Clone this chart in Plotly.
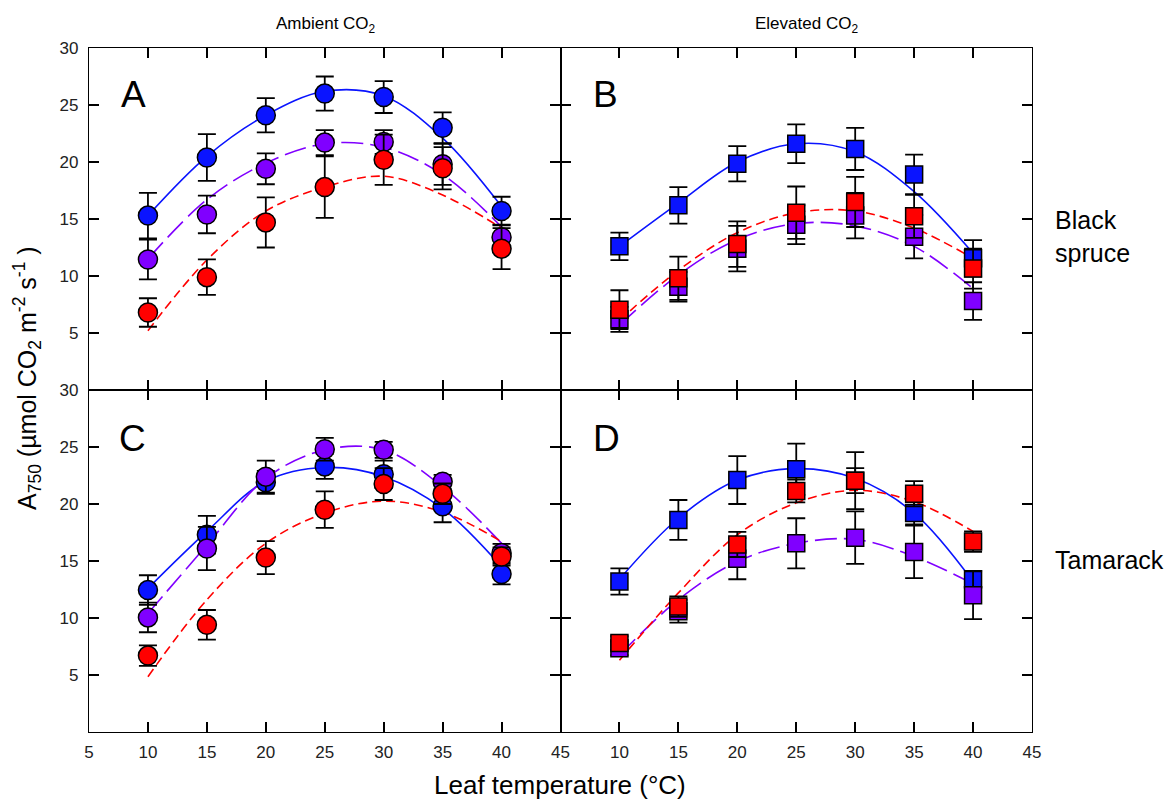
import plotly.graph_objects as go
from plotly.subplots import make_subplots

temps = [10, 15, 20, 25, 30, 35, 40]

# Panel A (Black spruce, ambient CO2) - circles
A_blue = [15.3, 20.4, 24.1, 26.0, 25.7, 23.0, 15.7]
A_blue_err = [2.0, 2.05, 1.5, 1.5, 1.4, 1.35, 1.25]
A_purple = [11.45, 15.4, 19.4, 21.7, 21.75, 19.8, 13.4]
A_purple_err = [1.75, 1.65, 1.35, 1.1, 1.05, 1.8, 1.1]
A_red = [6.8, 9.9, 14.7, 17.8, 20.2, 19.45, 12.4]
A_red_err = [1.25, 1.55, 2.2, 2.7, 2.2, 1.85, 1.8]
A_blue_fit = [15.3, 20.5, 24.1, 26.2, 25.8, 22.1, 16.1]
A_purple_fit = [11.5, 16.7, 19.9, 21.6, 21.3, 18.9, 14.3]
A_red_fit = [5.2, 11.4, 15.7, 17.8, 18.75, 17.1, 14.2]

# Panel B (Black spruce, elevated CO2) - squares
B_blue = [12.6, 16.2, 19.85, 21.6, 21.15, 18.9, 11.55]
B_blue_err = [1.2, 1.6, 1.55, 1.7, 1.85, 1.75, 1.6]
B_purple = [6.2, 9.05, 12.4, 14.5, 15.3, 13.45, 7.8]
B_purple_err = [1.1, 1.3, 2.0, 1.7, 2.0, 1.9, 1.65]
B_red = [7.05, 9.8, 12.8, 15.55, 16.5, 15.25, 10.65]
B_red_err = [1.7, 1.9, 2.0, 2.3, 2.2, 1.9, 1.75]
B_blue_fit = [12.6, 16.4, 20.0, 21.6, 20.9, 17.4, 12.0]
B_purple_fit = [5.7, 10.1, 13.2, 14.6, 14.4, 12.6, 8.9]
B_red_fit = [6.1, 10.5, 13.8, 15.55, 15.7, 14.2, 11.55]

# Panel C (Tamarack, ambient CO2) - circles
C_blue = [12.45, 17.3, 21.9, 23.3, 22.6, 19.8, 13.85]
C_blue_err = [1.3, 1.65, 1.0, 1.1, 1.2, 1.4, 0.9]
C_purple = [10.05, 16.1, 22.4, 24.8, 24.75, 21.95, 15.7]
C_purple_err = [1.3, 1.9, 1.4, 1.0, 0.7, 0.6, 0.8]
C_red = [6.7, 9.4, 15.3, 19.5, 21.75, 20.9, 15.4]
C_red_err = [0.9, 1.3, 1.45, 1.6, 1.4, 0.9, 0.8]
C_blue_fit = [12.6, 17.6, 22.0, 23.2, 22.4, 19.6, 14.5]
C_purple_fit = [10.4, 16.4, 22.25, 24.75, 24.75, 21.5, 16.55]
C_red_fit = [4.85, 11.6, 16.55, 19.2, 20.25, 19.3, 16.7]

# Panel D (Tamarack, elevated CO2) - squares
D_blue = [13.2, 18.6, 22.1, 23.05, 22.05, 19.2, 13.4]
D_blue_err = [1.15, 1.75, 2.1, 2.25, 2.5, 1.0, 0.7]
D_purple = [7.35, 10.6, 15.2, 16.55, 17.05, 15.8, 12.0]
D_purple_err = [0.6, 1.0, 1.8, 2.2, 2.3, 2.3, 2.1]
D_red = [7.8, 11.0, 16.45, 21.15, 22.05, 20.9, 16.7]
D_red_err = [0.6, 0.9, 1.1, 1.0, 1.1, 1.1, 0.9]
D_blue_fit = [13.4, 18.75, 22.1, 23.1, 22.25, 19.2, 13.2]
D_purple_fit = [6.75, 11.6, 14.95, 16.55, 16.9, 15.4, 13.0]
D_red_fit = [6.3, 12.2, 17.3, 20.1, 21.2, 20.2, 17.6]

x_tickvals = [5, 10, 15, 20, 25, 30, 35, 40, 45]
y_tickvals = [0, 5, 10, 15, 20, 25, 30]

BLUE = "#0a14ff"
PURPLE = "#8000ff"
RED = "#ff0000"

fig = make_subplots(rows=2, cols=2, horizontal_spacing=0, vertical_spacing=0)

panels = [
    (1, 1, "circle", [(A_blue, A_blue_err, A_blue_fit, BLUE, "solid"),
                      (A_purple, A_purple_err, A_purple_fit, PURPLE, "22px,7px"),
                      (A_red, A_red_err, A_red_fit, RED, "9px,5px")]),
    (1, 2, "square", [(B_blue, B_blue_err, B_blue_fit, BLUE, "solid"),
                      (B_purple, B_purple_err, B_purple_fit, PURPLE, "22px,7px"),
                      (B_red, B_red_err, B_red_fit, RED, "9px,5px")]),
    (2, 1, "circle", [(C_blue, C_blue_err, C_blue_fit, BLUE, "solid"),
                      (C_purple, C_purple_err, C_purple_fit, PURPLE, "22px,7px"),
                      (C_red, C_red_err, C_red_fit, RED, "9px,5px")]),
    (2, 2, "square", [(D_blue, D_blue_err, D_blue_fit, BLUE, "solid"),
                      (D_purple, D_purple_err, D_purple_fit, PURPLE, "22px,7px"),
                      (D_red, D_red_err, D_red_fit, RED, "9px,5px")]),
]

for r, c, sym, series in panels:
    for vals, err, fit, col, dash in series:
        fig.add_trace(go.Scatter(x=temps, y=fit, mode="lines",
                                 line=dict(color=col, width=1.6, dash=dash, shape="spline", smoothing=1.0),
                                 showlegend=False, hoverinfo="skip"), row=r, col=c)
    for vals, err, fit, col, dash in series:
        fig.add_trace(go.Scatter(x=temps, y=vals, mode="markers",
                                 marker=dict(symbol=sym, size=19 if sym == "circle" else 17,
                                             color=col, line=dict(color="black", width=1.5)),
                                 error_y=dict(type="data", array=err, color="black", thickness=1.8, width=9),
                                 showlegend=False), row=r, col=c)

text_font = "Liberation Sans, Arial, sans-serif"
tick_font = dict(family=text_font, size=17, color="#222222")

for r in (1, 2):
    for c in (1, 2):
        if r == 2:
            if c == 1:
                xt = [str(v) for v in x_tickvals]
            else:
                xt = [""] + [str(v) for v in x_tickvals[1:]]
        else:
            xt = ["" for _ in x_tickvals]
        if c == 1:
            yt = [""] + [str(v) for v in y_tickvals[1:]]
        else:
            yt = ["" for _ in y_tickvals]
        fig.update_xaxes(range=[5, 45], tickvals=x_tickvals, ticktext=xt, ticks="inside", ticklen=10,
                         tickwidth=1.5, tickcolor="black", showline=True, linecolor="black", linewidth=1.3,
                         mirror="allticks", showgrid=False, zeroline=False, tickfont=tick_font,
                         ticklabelstandoff=4, row=r, col=c)
        fig.update_yaxes(range=[0, 30], tickvals=y_tickvals, ticktext=yt, ticks="inside", ticklen=10,
                         tickwidth=1.5, tickcolor="black", showline=True, linecolor="black", linewidth=1.3,
                         mirror="allticks", showgrid=False, zeroline=False, tickfont=tick_font,
                         ticklabelstandoff=6, row=r, col=c)

L, R, T, B = 89, 1032, 48, 732
W, H = 1175, 803
def px(X):
    return (X - L) / (R - L)
def py(Y):
    return (B - Y) / (B - T)

ann = []
ann.append(dict(x=px(326), y=py(25), text="Ambient CO<sub>2</sub>",
                font=dict(family=text_font, size=17, color="black")))
ann.append(dict(x=px(806), y=py(25), text="Elevated CO<sub>2</sub>",
                font=dict(family=text_font, size=17, color="black")))
for lab, X, Y in [("A", 133, 95), ("B", 605, 95), ("C", 132, 438), ("D", 606, 438)]:
    ann.append(dict(x=px(X), y=py(Y), text=lab,
                    font=dict(family=text_font, size=37, color="black")))
ann.append(dict(x=px(1053), y=py(236), text="Black<br>spruce", xanchor="left", align="left",
                font=dict(family=text_font, size=25, color="black")))
ann.append(dict(x=px(1053), y=py(560), text="Tamarack", xanchor="left", align="left",
                font=dict(family=text_font, size=25, color="black")))
ann.append(dict(x=px(560), y=py(785), text="Leaf temperature (°C)",
                font=dict(family=text_font, size=26, color="black")))
ann.append(dict(x=px(27), y=py(378), text="A<sub>750</sub> (µmol CO<sub>2</sub> m<sup>-2</sup> s<sup>-1</sup> )",
                textangle=-90,
                font=dict(family=text_font, size=25, color="black")))
for a in ann:
    a["xref"] = "paper"
    a["yref"] = "paper"
    a["showarrow"] = False
    a.setdefault("xanchor", "center")
    a["yanchor"] = "middle"

fig.update_layout(width=W, height=H, margin=dict(l=L, r=W - R, t=T, b=H - B),
                  plot_bgcolor="white", paper_bgcolor="white", annotations=ann, showlegend=False)

fig.write_html("out.html")
